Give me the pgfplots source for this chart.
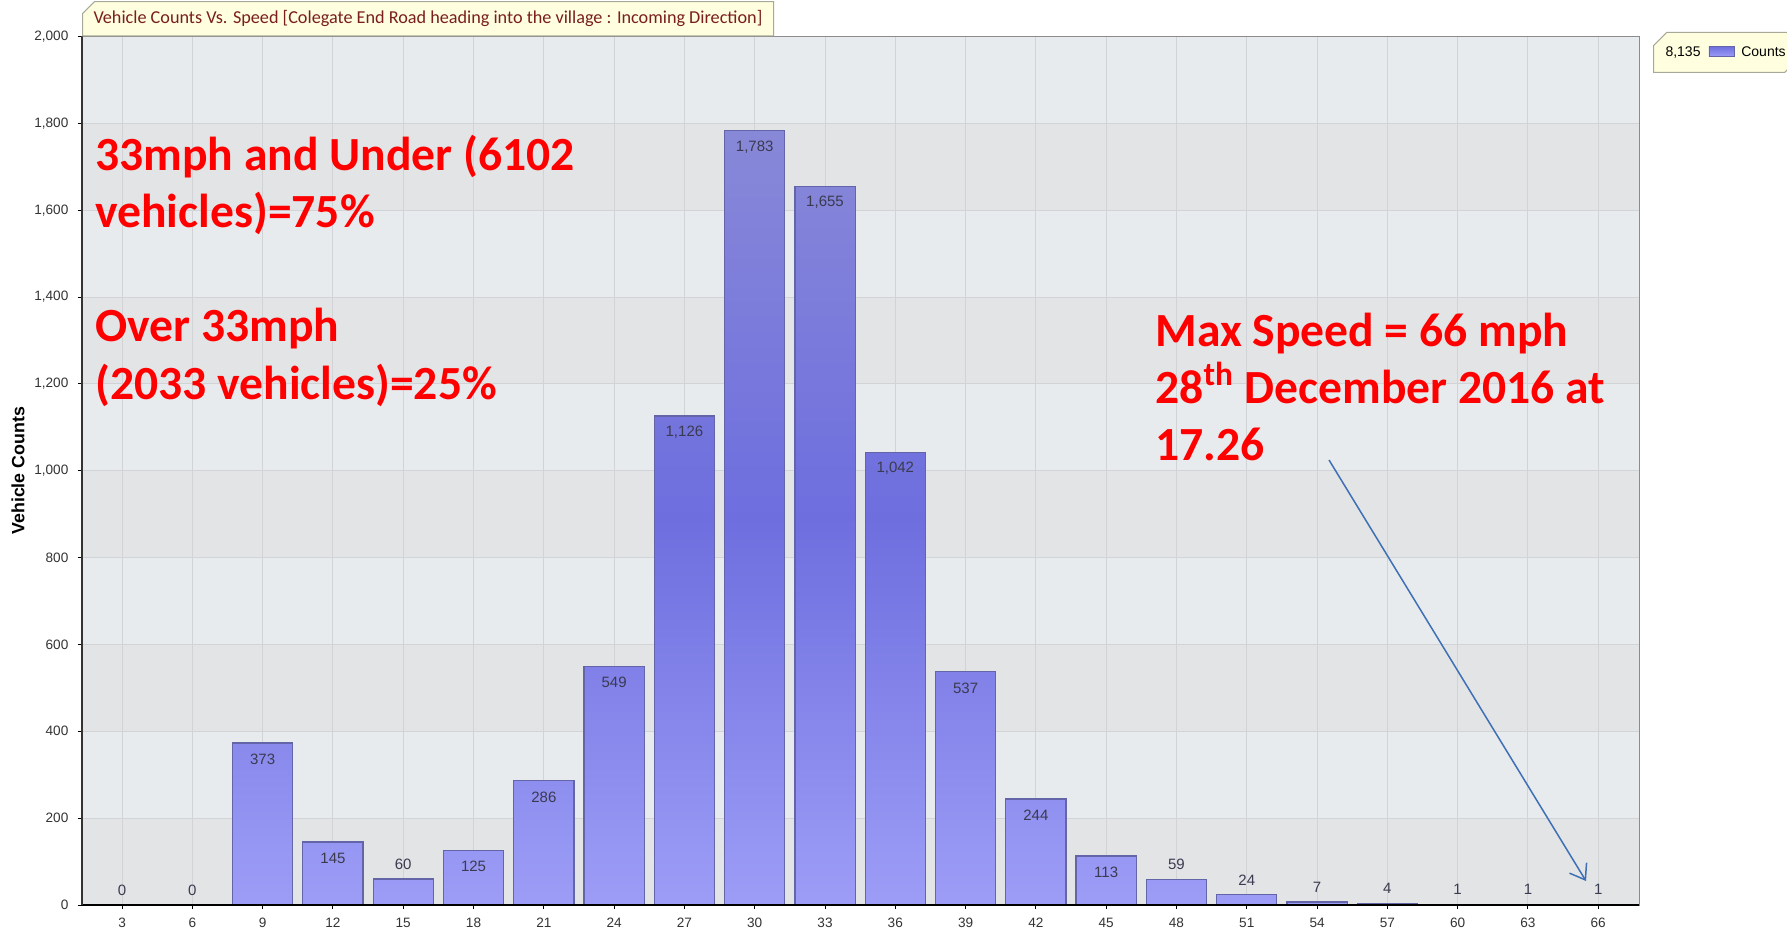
\documentclass[border=0pt]{standalone}
\usepackage{pgfplots}
\pgfplotsset{compat=1.18}
\usepackage{pgfplotstable}
\usepackage{fontspec}
\setmainfont{Liberation Sans}
\newfontfamily\calibri{Carlito}
\usetikzlibrary{shapes.misc,arrows.meta}
\definecolor{bandD}{HTML}{E3E4E6}
\definecolor{bandL}{HTML}{E8EBEE}
\definecolor{gridc}{HTML}{D2D3D6}
\definecolor{barE}{HTML}{6464A8}
\definecolor{barT}{HTML}{8888D8}
\definecolor{barM}{HTML}{6E6EDF}
\definecolor{barB}{HTML}{9D9DF7}
\definecolor{labc}{HTML}{3A3A50}
\definecolor{tickc}{HTML}{333333}
\definecolor{redt}{HTML}{FF0000}
\definecolor{arrowc}{HTML}{3E70B5}
\definecolor{cream}{HTML}{FFFFE0}
\definecolor{titlec}{HTML}{7A1E1E}
\definecolor{boxe}{HTML}{A8A898}

\pgfplotstableread{
x y lab ly
3 0 0 34
6 0 0 34
9 373 373 336
12 145 145 108
15 60 60 94
18 125 125 88
21 286 286 249
24 549 549 512
27 1126 1,126 1089
30 1783 1,783 1746
33 1655 1,655 1618
36 1042 1,042 1005
39 537 537 500
42 244 244 207
45 113 113 76
48 59 59 93
51 24 24 58
54 7 7 41
57 4 4 38
60 1 1 35
63 1 1 35
66 1 1 35
}\speeds

\begin{document}
\begin{tikzpicture}
\begin{axis}[
  set layers,
  at={(0,0)}, anchor=south west,
  scale only axis, width=778.5pt, height=434.25pt,
  xmin=1.29, xmax=67.74, ymin=0, ymax=2000,
  xtick={3,6,...,66}, ytick={0,200,...,2000},
  xtick pos=bottom, ytick pos=left,
  grid=major, major grid style={gridc, line width=0.5pt},
  axis background/.style={fill=bandL},
  axis line style={draw=black!45},
  tick align=outside, major tick length=2pt,
  tick style={black, line width=0.5pt},
  xticklabel style={font=\fontsize{6.8}{8}\selectfont, text=tickc, yshift=-1.2pt},
  yticklabel style={font=\fontsize{6.8}{8}\selectfont, text=tickc, xshift=-1.3pt},
  /pgf/number format/.cd, 1000 sep={,}, assume math mode=true, /pgfplots/.cd,
  ylabel={Vehicle Counts},
  ylabel style={at={(axis description cs:-0.0411,0.5)}, anchor=center, font=\bfseries\fontsize{8.9}{10}\selectfont, text=black},
]
\begin{pgfonlayer}{axis background}
\fill[bandD] (axis cs:1.29,0) rectangle (axis cs:67.74,200);
\fill[bandD] (axis cs:1.29,400) rectangle (axis cs:67.74,600);
\fill[bandD] (axis cs:1.29,800) rectangle (axis cs:67.74,1000);
\fill[bandD] (axis cs:1.29,1200) rectangle (axis cs:67.74,1400);
\fill[bandD] (axis cs:1.29,1600) rectangle (axis cs:67.74,1800);
\end{pgfonlayer}
\addplot[ybar, bar width=2.57, draw=barE, line width=0.6pt, top color=barT, bottom color=barB, middle color=barM] table[x=x,y=y] {\speeds};
\addplot[draw=none, mark=none, nodes near coords, point meta=explicit symbolic,
  every node near coord/.append style={anchor=center, font=\fontsize{7.5}{8}\selectfont, text=labc}]
  table[x=x,y=ly,meta=lab] {\speeds};
\end{axis}
\draw[black, line width=1pt] (0,0) -- (778.5pt,0);
\draw[black!80, line width=0.6pt] (0,0) -- (0,434.25pt);
% title
\node[chamfered rectangle, chamfered rectangle corners=north west, chamfered rectangle xsep=2.5pt,
  fill=cream, draw=boxe, line width=0.5pt, anchor=south west, minimum height=13pt, inner xsep=3pt, inner ysep=1pt,
  font=\calibri\fontsize{9.1}{10}\selectfont, text=titlec] at (0,434.25pt)
  {Vehicle Counts Vs. Speed [Colegate End Road heading into the village : Incoming Direction]};
% legend
\node[chamfered rectangle, chamfered rectangle corners={north west,south east}, chamfered rectangle xsep=3pt,
  fill=cream, draw=boxe, line width=0.5pt, anchor=west, minimum height=13.5pt, inner xsep=3pt,
  font=\fontsize{7}{8}\selectfont, text=black] at (785.5pt,426.25pt)
  {8,135\hspace{4pt}\tikz[baseline=-0.2pt]{\shade[top color=barM, bottom color=barB, draw=barE, line width=0.4pt] (0,0) rectangle (12.5pt,5pt);}\hspace{3.5pt}Counts\hspace{6pt}};
% annotations
\begin{scope}[every node/.style={anchor=base west, inner sep=0pt, text=redt, font=\calibri\bfseries\fontsize{23.8}{28}\selectfont}]
\node at (6.5pt,367pt) {33mph and Under (6102};
\node at (6.5pt,338.5pt) {vehicles)=75\%};
\node at (6.5pt,281.5pt) {Over 33mph};
\node at (6.5pt,252.5pt) {(2033 vehicles)=25\%};
\node at (536.5pt,279.2pt) {Max Speed = 66 mph};
\node at (536.5pt,250.7pt) {28\textsuperscript{th} December 2016 at};
\node at (536.5pt,222.2pt) {17.26};
\end{scope}
\draw[arrowc, line width=0.75pt, -{Straight Barb[length=7pt,width=10pt]}] (623.5pt,222.5pt) -- (752pt,12pt);
\pgfresetboundingbox
\useasboundingbox (-41pt,-11.5pt) rectangle (852.5pt,452.5pt);
\end{tikzpicture}
\end{document}
